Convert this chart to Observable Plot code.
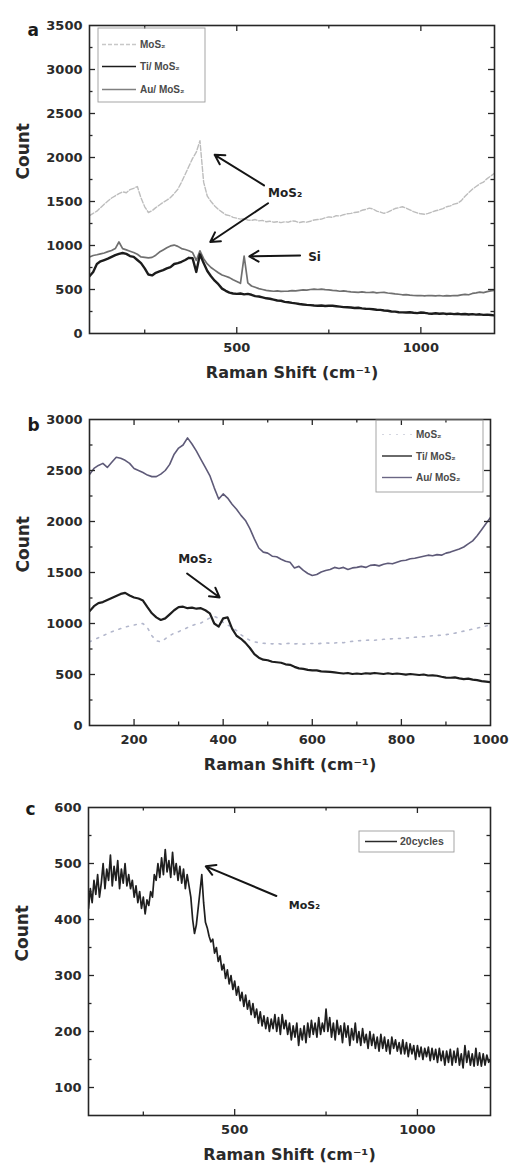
<!DOCTYPE html>
<html>
<head>
<meta charset="utf-8">
<script src="https://cdn.jsdelivr.net/npm/d3@7"></script>
<script src="https://cdn.jsdelivr.net/npm/@observablehq/plot@0.6"></script>
<style>
  body { margin: 0; background: #fff; width: 511px; }
  #charts svg { display: block; }
</style>
</head>
<body>
<div id="charts"></div>
<script>
// ---------- Panel a: Raman spectra, 100–1200 cm⁻¹, sampled every 10 cm⁻¹ ----------
const shiftA = d3.range(100, 1201, 10);
const mos2A = [
  1340,1365,1390,1430,1470,1505,1540,1565,1590,1610,
  1600,1635,1650,1670,1540,1440,1375,1395,1430,1460,
  1490,1515,1545,1590,1640,1720,1810,1900,1990,2060,
  2190,1720,1560,1500,1450,1410,1380,1350,1340,1320,
  1310,1300,1305,1290,1285,1295,1280,1285,1270,1275,
  1265,1270,1260,1270,1265,1280,1275,1260,1270,1265,
  1275,1290,1295,1300,1315,1325,1320,1340,1335,1350,
  1360,1365,1375,1380,1400,1410,1425,1415,1390,1380,
  1365,1380,1400,1420,1430,1440,1425,1405,1385,1370,
  1360,1355,1365,1380,1395,1405,1420,1440,1450,1470,
  1480,1510,1560,1600,1640,1670,1700,1720,1760,1790,
  1820
];
const tiA = [
  650,700,790,820,835,850,870,890,905,915,
  905,880,870,835,800,740,670,660,690,705,
  720,740,755,790,800,815,835,860,855,700,
  900,800,710,650,600,560,510,485,465,455,
  450,455,445,450,440,425,420,410,400,395,
  385,375,372,360,355,348,342,335,330,325,
  322,318,315,318,312,316,315,310,305,300,
  298,295,290,292,285,282,280,275,270,268,
  262,258,250,248,242,240,238,242,236,232,
  238,235,228,225,230,224,228,222,226,220,
  224,218,222,216,220,214,218,212,215,210,
  205
];
const auA = [
  870,886,895,905,915,930,943,965,1040,965,
  950,935,920,900,870,865,860,865,890,925,
  950,975,995,1005,990,965,955,940,920,830,
  940,850,790,750,720,690,665,650,635,610,
  590,570,880,575,540,525,510,500,490,485,
  480,485,478,480,482,488,485,490,495,492,
  500,505,500,505,498,495,490,487,480,485,
  478,472,470,468,472,468,466,470,462,466,
  468,460,455,450,446,440,442,436,432,430,
  432,428,432,430,428,432,426,430,428,432,
  430,438,445,440,455,462,470,465,475,485,
  490
];

// ---------- Panel b: Raman spectra, 100–1000 cm⁻¹, sampled every 10 cm⁻¹ ----------
const shiftB = d3.range(100, 1001, 10);
const mos2B = [
  820,840,860,880,900,920,935,950,965,975,
  985,995,1000,960,880,830,820,850,880,905,
  920,940,960,980,995,1005,1030,1055,1070,1050,
  1010,985,965,930,890,860,835,820,812,806,
  804,800,805,798,802,806,800,804,798,802,
  804,800,806,810,806,808,815,812,820,825,
  830,832,835,838,836,840,845,848,850,852,
  853,858,860,865,868,870,875,880,882,886,
  890,898,905,915,925,935,945,955,965,975,
  985
];
const tiB = [
  1120,1170,1200,1210,1230,1250,1270,1290,1300,1275,
  1255,1245,1225,1160,1100,1060,1035,1050,1090,1130,
  1160,1165,1150,1155,1145,1150,1130,1100,1000,970,
  1050,1060,950,880,850,810,760,700,665,645,
  640,625,620,615,600,595,575,560,555,545,
  540,540,530,528,525,520,515,510,515,505,
  510,505,512,508,515,510,505,512,505,510,
  505,498,505,500,495,500,490,492,488,478,
  470,468,472,462,455,460,450,445,435,430,
  425
];
const auB = [
  2460,2520,2550,2570,2530,2580,2630,2620,2600,2570,
  2520,2500,2480,2455,2440,2440,2465,2500,2560,2660,
  2720,2750,2820,2760,2690,2610,2530,2450,2330,2220,
  2270,2230,2170,2120,2060,2010,1930,1830,1740,1700,
  1690,1660,1655,1630,1610,1600,1545,1560,1520,1490,
  1470,1480,1505,1520,1530,1550,1540,1550,1530,1545,
  1550,1560,1550,1570,1575,1565,1580,1590,1585,1600,
  1615,1620,1635,1640,1650,1660,1670,1665,1675,1670,
  1690,1700,1715,1730,1750,1780,1810,1860,1920,1980,
  2040
];

// ---------- Panel c: 20 cycles, 100–1200 cm⁻¹, sampled every 5 cm⁻¹ ----------
const shiftC = d3.range(100, 1201, 5);
const cyclesC = [
  420,455,430,470,445,480,440,465,500,455,490,470,515,460,495,470,505,455,490,465,
  500,460,480,455,470,440,460,430,450,420,440,410,435,425,450,440,480,470,500,475,
  510,480,525,485,505,475,520,480,500,470,495,465,490,455,480,460,440,400,375,390,
  420,450,480,430,395,385,370,360,365,340,350,325,335,310,320,295,310,285,300,275,
  290,265,280,255,270,245,265,240,255,230,250,225,240,215,235,210,228,205,225,200,
  222,205,230,200,225,195,230,205,220,195,215,185,210,190,215,175,205,185,210,180,
  215,190,220,195,215,190,225,195,215,200,240,200,225,190,215,185,220,195,210,180,
  215,190,210,175,205,185,215,180,200,175,205,180,195,170,200,175,195,170,190,165,
  195,170,190,165,185,160,190,170,185,165,180,160,185,160,180,155,178,160,175,150,
  175,155,172,150,170,155,172,148,170,150,168,145,170,148,165,140,165,145,168,140,
  165,145,170,140,160,135,175,145,165,140,160,138,170,140,162,138,160,140,158,145,
  150
];

// Axis ticks and labels
const xLabelsA = [500, 1000], xMinorA = [250, 750];
const yLabelsA = [0, 500, 1000, 1500, 2000, 2500, 3000, 3500];
const yMinorA = [250, 750, 1250, 1750, 2250, 2750, 3250];
const xLabelsB = [200, 400, 600, 800, 1000], xMinorB = [300, 500, 700, 900];
const yLabelsB = [0, 500, 1000, 1500, 2000, 2500, 3000];
const yMinorB = [250, 750, 1250, 1750, 2250, 2750];
const xLabelsC = [500, 1000], xMinorC = [250, 750];
const yLabelsC = [100, 200, 300, 400, 500, 600];
const yMinorC = [150, 250, 350, 450, 550];

// Peak callouts (data units)
const notesA = [{x: 585, y: 1600, text: "MoS₂"}, {x: 694, y: 865, text: "Si"}];
const arrowsA = [
  {x1: 574, y1: 1683, x2: 440, y2: 2030},
  {x1: 585, y1: 1480, x2: 428, y2: 1040},
  {x1: 672, y1: 886, x2: 534, y2: 876}
];
const notesB = [{x: 299, y: 1630, text: "MoS₂"}];
const arrowsB = [{x1: 319, y1: 1490, x2: 392, y2: 1255}];
const notesC = [{x: 648, y: 425, text: "MoS₂"}];
const arrowsC = [{x1: 614, y1: 442, x2: 421, y2: 495}];

const W = 511;
const FONT = "'DejaVu Sans', 'Liberation Sans', Arial, sans-serif";
const INK = "#262626";
const plain = d3.format("d");

const rows = (shift, count) => shift.map((s, i) => ({shift: s, count: count[i]}));

function panel(cfg) {
  const innerW = W - cfg.ml - cfg.mr;
  const innerH = cfg.height - cfg.mt - cfg.mb;
  const tickStyle = {stroke: INK, strokeWidth: 1.3};
  const marks = [
    ...cfg.lines.map(l => Plot.line(rows(l.shift, l.count), {
      x: "shift", y: "count", stroke: l.color, strokeWidth: l.width,
      strokeDasharray: l.dash, clip: true
    })),
    // inward ticks on all four sides
    Plot.tickX(cfg.xMajor, {x: d => d, insetTop: innerH - 6, ...tickStyle}),
    Plot.tickX(cfg.xMajor, {x: d => d, insetBottom: innerH - 6, ...tickStyle}),
    Plot.tickX(cfg.xMinor, {x: d => d, insetTop: innerH - 3.5, ...tickStyle}),
    Plot.tickX(cfg.xMinor, {x: d => d, insetBottom: innerH - 3.5, ...tickStyle}),
    Plot.tickY(cfg.yMajor, {y: d => d, insetRight: innerW - 6, ...tickStyle}),
    Plot.tickY(cfg.yMajor, {y: d => d, insetLeft: innerW - 6, ...tickStyle}),
    Plot.tickY(cfg.yMinor, {y: d => d, insetRight: innerW - 3.5, ...tickStyle}),
    Plot.tickY(cfg.yMinor, {y: d => d, insetLeft: innerW - 3.5, ...tickStyle}),
    Plot.frame({stroke: INK, strokeWidth: 1.6}),
    Plot.axisX({ticks: cfg.xLabels, tickFormat: plain, tickSize: 0, tickPadding: 9, label: null,
      fontSize: 13, fontWeight: "bold", fill: "#2a2a2a"}),
    Plot.axisY({ticks: cfg.yLabels, tickFormat: plain, tickSize: 0, tickPadding: 7, label: null,
      fontSize: 13, fontWeight: "bold", fill: "#2a2a2a"}),
    Plot.text(["Raman Shift (cm⁻¹)"], {text: d => d, frameAnchor: "bottom", dy: 44,
      fontSize: 16, fontWeight: "bold", fill: "#2a2a2a"}),
    Plot.text(["Count"], {text: d => d, frameAnchor: "left", dx: -66, rotate: -90,
      fontSize: 17, fontWeight: "bold", fill: "#2a2a2a"}),
    Plot.text([cfg.letter], {text: d => d, frameAnchor: "top-left", dx: cfg.letterDx, dy: cfg.letterDy,
      fontSize: 17, fontWeight: "bold", fill: "#1a1a1a"}),
    Plot.arrow(cfg.arrows, {x1: "x1", y1: "y1", x2: "x2", y2: "y2",
      stroke: "#151515", strokeWidth: 2, headLength: 8}),
    Plot.text(cfg.notes, {x: "x", y: "y", text: "text", textAnchor: "start",
      fontSize: cfg.noteSize, fontWeight: "bold", fill: "#222"})
  ];
  const chart = Plot.plot({
    width: W, height: cfg.height,
    marginTop: cfg.mt, marginBottom: cfg.mb, marginLeft: cfg.ml, marginRight: cfg.mr,
    x: {domain: cfg.xDomain},
    y: {domain: cfg.yDomain},
    style: {fontFamily: FONT, background: "transparent", overflow: "visible"},
    marks
  });
  addLegend(chart, cfg);
  return chart;
}

// Boxed legend drawn inside the frame
function addLegend(chart, cfg) {
  const leg = cfg.legend;
  const g = d3.select(chart).append("g")
    .attr("transform", `translate(${cfg.ml + leg.x},${cfg.mt + leg.y})`)
    .attr("font-family", "'Liberation Sans', Arial, sans-serif")
    .attr("font-size", leg.fontSize)
    .attr("font-weight", "bold")
    .attr("text-anchor", "start");
  g.append("rect").attr("width", leg.w).attr("height", leg.h)
    .attr("fill", "none").attr("stroke", "#9c9c9c").attr("stroke-width", 0.9);
  for (const it of leg.items) {
    g.append("line").attr("x1", leg.lx1).attr("x2", leg.lx2).attr("y1", it.y).attr("y2", it.y)
      .attr("stroke", it.color).attr("stroke-width", it.width)
      .attr("stroke-dasharray", it.dash || null);
    g.append("text").attr("x", leg.tx).attr("y", it.y).attr("dy", "0.35em")
      .attr("text-anchor", "start")
      .attr("fill", "#4a4a4a").text(it.label);
  }
}

const root = document.getElementById("charts");

root.appendChild(panel({
  height: 390, mt: 25, mb: 57, ml: 89, mr: 17,
  xDomain: [100, 1200], yDomain: [0, 3500],
  xLabels: xLabelsA, xMajor: xLabelsA, xMinor: xMinorA,
  yLabels: yLabelsA, yMajor: yLabelsA.slice(1, -1), yMinor: yMinorA,
  lines: [
    {shift: shiftA, count: mos2A, color: "#bdbdbd", width: 1.4, dash: "5,2"},
    {shift: shiftA, count: auA, color: "#707070", width: 1.7},
    {shift: shiftA, count: tiA, color: "#1c1c1c", width: 2.4}
  ],
  letter: "a", letterDx: -62, letterDy: -2,
  notes: notesA, arrows: arrowsA, noteSize: 12,
  legend: {x: 9, y: 3, w: 107, h: 74, lx1: 4, lx2: 38, tx: 42, fontSize: 10, items: [
    {label: "MoS₂", color: "#c8c8c8", width: 1.4, dash: "4,2", y: 16.5},
    {label: "Ti/ MoS₂", color: "#1c1c1c", width: 1.6, y: 38.5},
    {label: "Au/ MoS₂", color: "#808080", width: 1.4, y: 61.5}
  ]}
}));

root.appendChild(panel({
  height: 395, mt: 29, mb: 60, ml: 89, mr: 21,
  xDomain: [100, 1000], yDomain: [0, 3000],
  xLabels: xLabelsB, xMajor: xLabelsB.slice(0, -1), xMinor: xMinorB,
  yLabels: yLabelsB, yMajor: yLabelsB.slice(1, -1), yMinor: yMinorB,
  lines: [
    {shift: shiftB, count: mos2B, color: "#b3b7cc", width: 1.6, dash: "2,6"},
    {shift: shiftB, count: auB, color: "#5e5a78", width: 1.6},
    {shift: shiftB, count: tiB, color: "#1e1e1e", width: 2.2}
  ],
  letter: "b", letterDx: -62, letterDy: -1,
  notes: notesB, arrows: arrowsB, noteSize: 12,
  legend: {x: 287, y: 1, w: 107, h: 72, lx1: 6, lx2: 36, tx: 40, fontSize: 10, items: [
    {label: "MoS₂", color: "#d4d6e0", width: 1.2, dash: "2,5", y: 14.5},
    {label: "Ti/ MoS₂", color: "#2a2a2a", width: 1.4, y: 36},
    {label: "Au/ MoS₂", color: "#6a6684", width: 1.4, y: 57.5}
  ]}
}));

root.appendChild(panel({
  height: 386, mt: 22, mb: 56, ml: 88, mr: 21,
  xDomain: [100, 1200], yDomain: [50, 600],
  xLabels: xLabelsC, xMajor: xLabelsC, xMinor: xMinorC,
  yLabels: yLabelsC, yMajor: yLabelsC.slice(0, -1), yMinor: yMinorC,
  lines: [
    {shift: shiftC, count: cyclesC, color: "#1f1f1f", width: 1.7}
  ],
  letter: "c", letterDx: -63, letterDy: -5,
  notes: notesC, arrows: arrowsC, noteSize: 11,
  legend: {x: 271, y: 24, w: 95, h: 21, lx1: 6, lx2: 38, tx: 41, fontSize: 10.5, items: [
    {label: "20cycles", color: "#2a2a2a", width: 1.5, y: 10.5}
  ]}
}));
</script>
</body>
</html>
